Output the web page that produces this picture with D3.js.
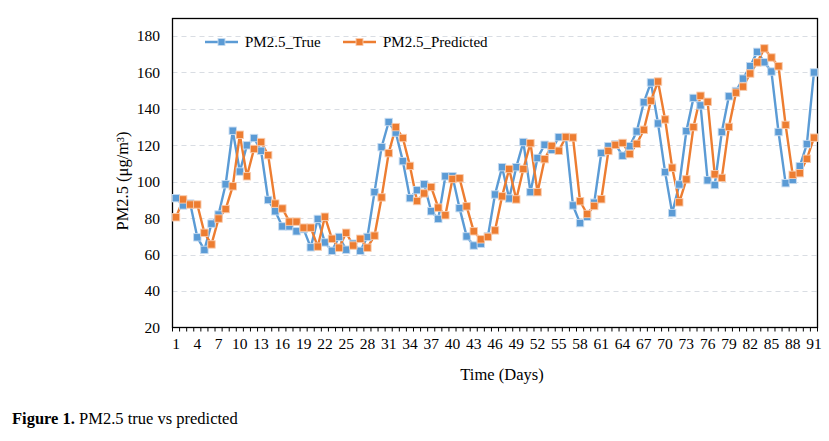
<!DOCTYPE html>
<html>
<head>
<meta charset="utf-8">
<script src="https://cdn.jsdelivr.net/npm/d3@7/dist/d3.min.js"></script>
<style>
html,body{margin:0;padding:0;background:#fff;}
svg{display:block;font-family:"Liberation Serif","Times New Roman",serif;}
</style>
</head>
<body>
<svg id="chart" width="829" height="441"></svg>
<script>
const days = d3.range(1, 92);
const xTickLabels = d3.range(1, 92, 3);
const yTicks = [20, 40, 60, 80, 100, 120, 140, 160, 180];
const seriesNames = ["PM2.5_True", "PM2.5_Predicted"];
const seriesColors = ["#5B9BD5", "#ED7D31"];
const trueValues = [
  91, 87, 88, 69.5, 62.6, 77, 82, 98.6, 128, 105.6,
  120, 124, 117, 90, 83.8, 75.5, 75.5, 72.8, 74, 64,
  79.6, 66.7, 62.1, 69.7, 62.7, 66, 62.1, 69.7, 94.3, 119,
  132.8, 127, 111.3, 91, 95.4, 98.6, 83.8, 79.6, 103, 103,
  85.5, 70, 65, 66, 70, 93, 108, 90.8, 108, 121.8,
  94.3, 113, 120.3, 117.5, 124.5, 124.5, 87, 77.3, 80.8, 88.5,
  115.8, 119.5, 120.5, 114.3, 119.5, 127.6, 143.6, 154.5, 132, 105.3,
  82.8, 98.5, 127.8, 146, 141.9, 100.8, 98.2, 127.3, 146.9, 149.8,
  156.6, 163.4, 171.3, 165.6, 160.5, 127.3, 99.2, 101, 108.5, 120.7,
  160
];
const predictedValues = [
  80.5, 90.3, 87.5, 87.5, 72, 65.6, 79.8, 85, 97.5, 125.8,
  103, 118, 121.8, 114.6, 88, 85.3, 78.1, 78.1, 74.8, 74.8,
  64.4, 80.8, 68.7, 63.8, 72, 65, 68.7, 63.8, 70.4, 91.4,
  115.7, 130, 124, 108.7, 89.4, 93.6, 97.1, 85.8, 81.6, 101.5,
  101.9, 86.5, 72.8, 68.4, 69.7, 73.3, 92, 107, 90.3, 107,
  121.2, 94.3, 112.4, 119.7, 117, 124.6, 124.3, 89.3, 82.3, 86.7,
  90.4, 116.9, 120.2, 121.3, 115.2, 120.8, 128.5, 144.5, 155, 134.2,
  107.7, 88.7, 101.3, 130, 147.2, 143.9, 104.1, 102.1, 130.1, 148.9,
  152.2, 159.4, 165.5, 173.2, 168.2, 163.4, 131.2, 103.8, 104.7, 112.6,
  124.2
];

const svg = d3.select("#chart");
const pLeft = 172.5, pRight = 817.5, pTop = 18.5, pBottom = 327.5;

const x = d3.scaleBand().domain(days).range([pLeft, pRight]).padding(0);
const cx = d => x(d) + x.bandwidth() / 2;
const y = d3.scaleLinear().domain([20, 180]).range([pBottom, 36]);

// gridlines
svg.append("g").selectAll("line").data(yTicks.filter(t => t > 20)).join("line")
  .attr("x1", pLeft).attr("x2", pRight)
  .attr("y1", d => Math.round(y(d)) + 0.5).attr("y2", d => Math.round(y(d)) + 0.5)
  .attr("stroke", "#d9dde3").attr("stroke-width", 1).attr("stroke-dasharray", "5,4");

// frame
svg.append("rect").attr("x", pLeft).attr("y", pTop)
  .attr("width", pRight - pLeft).attr("height", pBottom - pTop)
  .attr("fill", "none").attr("stroke", "#000").attr("stroke-width", 1.3);

// y axis labels
svg.append("g").selectAll("text").data(yTicks).join("text")
  .attr("x", 160).attr("y", d => y(d)).attr("dy", "0.35em")
  .attr("text-anchor", "end").attr("font-size", 15.5).attr("fill", "#000")
  .text(d => d);

// x axis
const xAxis = d3.axisBottom(x).tickSize(4).tickSizeOuter(0)
  .tickFormat(d => xTickLabels.includes(d) ? d : "");
const gx = svg.append("g").attr("transform", `translate(0,${pBottom})`);
gx.call(xAxis);
gx.select(".domain").remove();
gx.selectAll(".tick line").remove();
gx.selectAll(".tick text").attr("font-size", 15.5).attr("font-family", "Liberation Serif, serif")
  .attr("fill", "#000").attr("dy", "1.0em").attr("y", 6);
// category boundary tick marks
const boundaries = days.map(d => x(d)).concat([pRight]);
svg.append("g").selectAll("line").data(boundaries).join("line")
  .attr("x1", d => d).attr("x2", d => d)
  .attr("y1", pBottom).attr("y2", pBottom + 4)
  .attr("stroke", "#000").attr("stroke-width", 1);

// series
const series = [trueValues, predictedValues];
series.forEach((vals, i) => {
  const line = d3.line().x((v, j) => cx(days[j])).y(v => y(v));
  svg.append("path").datum(vals).attr("d", line)
    .attr("fill", "none").attr("stroke", seriesColors[i]).attr("stroke-width", 2.4)
    .attr("stroke-linejoin", "round");
});
series.forEach((vals, i) => {
  const ms = 7.4;
  svg.append("g").selectAll("rect").data(vals).join("rect")
    .attr("x", (v, j) => cx(days[j]) - ms / 2).attr("y", v => y(v) - ms / 2)
    .attr("width", ms).attr("height", ms)
    .attr("fill", seriesColors[i])
    .attr("stroke", i === 0 ? "#c6dbf0" : "#f8cbad").attr("stroke-width", 0.9);
});

// legend
const legendPos = [{x1: 205, tx: 245}, {x1: 343, tx: 383}];
legendPos.forEach((p, i) => {
  const g = svg.append("g");
  g.append("line").attr("x1", p.x1).attr("x2", p.x1 + 33).attr("y1", 42).attr("y2", 42)
    .attr("stroke", seriesColors[i]).attr("stroke-width", 2.4);
  g.append("rect").attr("x", p.x1 + 16.5 - 3.5).attr("y", 42 - 3.5).attr("width", 7).attr("height", 7)
    .attr("fill", seriesColors[i]).attr("stroke", i === 0 ? "#c6dbf0" : "#f8cbad").attr("stroke-width", 0.9);
  g.append("text").attr("x", p.tx).attr("y", 42).attr("dy", "0.35em")
    .attr("font-size", 15).attr("fill", "#000").text(seriesNames[i]);
});

// axis titles
svg.append("text").attr("transform", "translate(122,181) rotate(-90)")
  .attr("text-anchor", "middle").attr("dy", "0.35em").attr("font-size", 16.5).attr("fill", "#000")
  .text("PM2.5 (μg/m³)");
svg.append("text").attr("x", 502).attr("y", 374).attr("dy", "0.35em")
  .attr("text-anchor", "middle").attr("font-size", 16.5).attr("fill", "#000")
  .text("Time (Days)");

// caption
const cap = svg.append("text").attr("x", 12).attr("y", 418).attr("dy", "0.35em")
  .attr("font-size", 16.5).attr("fill", "#000");
cap.append("tspan").attr("font-weight", "bold").text("Figure 1.");
cap.append("tspan").text(" PM2.5 true vs predicted");
</script>
</body>
</html>
